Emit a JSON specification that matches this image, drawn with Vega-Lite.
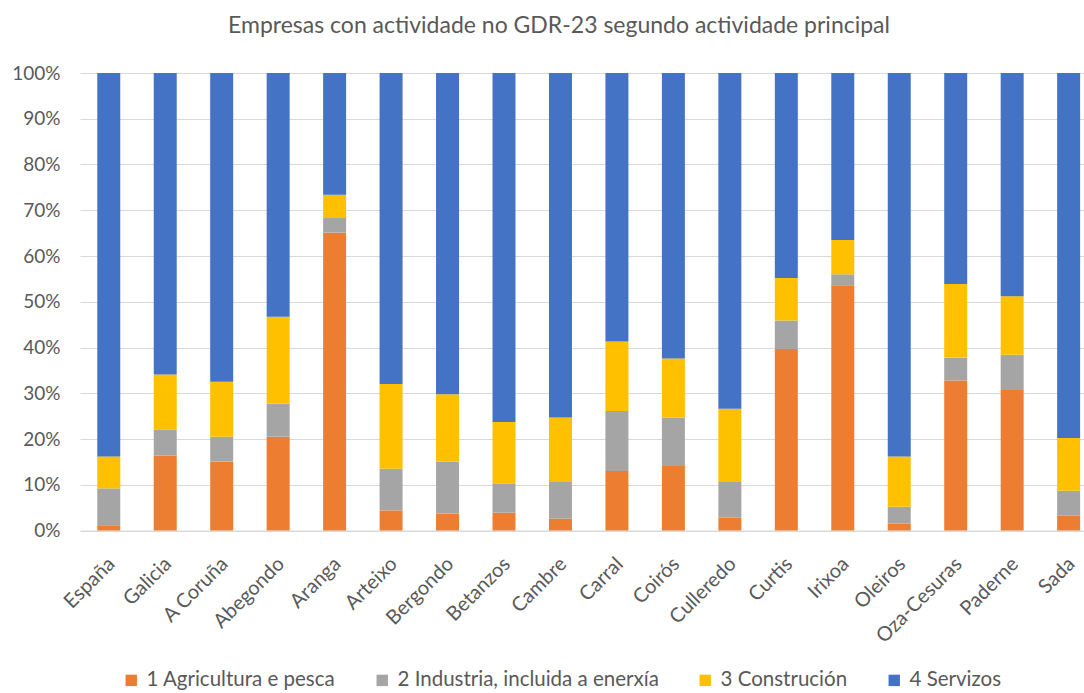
{
  "$schema": "https://vega.github.io/schema/vega-lite/v6.json",
  "width": 1004,
  "height": 457.5,
  "autosize": {"type": "none"},
  "padding": {"left": 80, "top": 73, "right": 0, "bottom": 162.5},
  "background": "white",
  "title": {
    "text": "Empresas con actividade no GDR-23 segundo actividade principal",
    "font": "Lato",
    "fontSize": 23,
    "fontWeight": "normal",
    "color": "#595959",
    "anchor": "middle",
    "dx": -23,
    "offset": 26
  },
  "config": {
    "view": {"stroke": null},
    "font": "Lato"
  },
  "data": {
    "values": [
      {"municipio": "España", "serie": "1 Agricultura e pesca", "valor": 1.0},
      {"municipio": "España", "serie": "2 Industria, incluida a enerxía", "valor": 8.2},
      {"municipio": "España", "serie": "3 Construción", "valor": 7.0},
      {"municipio": "España", "serie": "4 Servizos", "valor": 83.8},
      {"municipio": "Galicia", "serie": "1 Agricultura e pesca", "valor": 16.4},
      {"municipio": "Galicia", "serie": "2 Industria, incluida a enerxía", "valor": 5.7},
      {"municipio": "Galicia", "serie": "3 Construción", "valor": 12.0},
      {"municipio": "Galicia", "serie": "4 Servizos", "valor": 65.9},
      {"municipio": "A Coruña", "serie": "1 Agricultura e pesca", "valor": 15.1},
      {"municipio": "A Coruña", "serie": "2 Industria, incluida a enerxía", "valor": 5.4},
      {"municipio": "A Coruña", "serie": "3 Construción", "valor": 12.0},
      {"municipio": "A Coruña", "serie": "4 Servizos", "valor": 67.5},
      {"municipio": "Abegondo", "serie": "1 Agricultura e pesca", "valor": 20.5},
      {"municipio": "Abegondo", "serie": "2 Industria, incluida a enerxía", "valor": 7.2},
      {"municipio": "Abegondo", "serie": "3 Construción", "valor": 19.0},
      {"municipio": "Abegondo", "serie": "4 Servizos", "valor": 53.3},
      {"municipio": "Aranga", "serie": "1 Agricultura e pesca", "valor": 65.1},
      {"municipio": "Aranga", "serie": "2 Industria, incluida a enerxía", "valor": 3.2},
      {"municipio": "Aranga", "serie": "3 Construción", "valor": 5.1},
      {"municipio": "Aranga", "serie": "4 Servizos", "valor": 26.6},
      {"municipio": "Arteixo", "serie": "1 Agricultura e pesca", "valor": 4.4},
      {"municipio": "Arteixo", "serie": "2 Industria, incluida a enerxía", "valor": 9.1},
      {"municipio": "Arteixo", "serie": "3 Construción", "valor": 18.5},
      {"municipio": "Arteixo", "serie": "4 Servizos", "valor": 68.0},
      {"municipio": "Bergondo", "serie": "1 Agricultura e pesca", "valor": 3.7},
      {"municipio": "Bergondo", "serie": "2 Industria, incluida a enerxía", "valor": 11.4},
      {"municipio": "Bergondo", "serie": "3 Construción", "valor": 14.7},
      {"municipio": "Bergondo", "serie": "4 Servizos", "valor": 70.2},
      {"municipio": "Betanzos", "serie": "1 Agricultura e pesca", "valor": 3.9},
      {"municipio": "Betanzos", "serie": "2 Industria, incluida a enerxía", "valor": 6.4},
      {"municipio": "Betanzos", "serie": "3 Construción", "valor": 13.4},
      {"municipio": "Betanzos", "serie": "4 Servizos", "valor": 76.3},
      {"municipio": "Cambre", "serie": "1 Agricultura e pesca", "valor": 2.6},
      {"municipio": "Cambre", "serie": "2 Industria, incluida a enerxía", "valor": 8.0},
      {"municipio": "Cambre", "serie": "3 Construción", "valor": 14.1},
      {"municipio": "Cambre", "serie": "4 Servizos", "valor": 75.3},
      {"municipio": "Carral", "serie": "1 Agricultura e pesca", "valor": 13.0},
      {"municipio": "Carral", "serie": "2 Industria, incluida a enerxía", "valor": 13.1},
      {"municipio": "Carral", "serie": "3 Construción", "valor": 15.2},
      {"municipio": "Carral", "serie": "4 Servizos", "valor": 58.7},
      {"municipio": "Coirós", "serie": "1 Agricultura e pesca", "valor": 14.1},
      {"municipio": "Coirós", "serie": "2 Industria, incluida a enerxía", "valor": 10.6},
      {"municipio": "Coirós", "serie": "3 Construción", "valor": 12.9},
      {"municipio": "Coirós", "serie": "4 Servizos", "valor": 62.4},
      {"municipio": "Culleredo", "serie": "1 Agricultura e pesca", "valor": 2.8},
      {"municipio": "Culleredo", "serie": "2 Industria, incluida a enerxía", "valor": 7.8},
      {"municipio": "Culleredo", "serie": "3 Construción", "valor": 16.0},
      {"municipio": "Culleredo", "serie": "4 Servizos", "valor": 73.4},
      {"municipio": "Curtis", "serie": "1 Agricultura e pesca", "valor": 39.7},
      {"municipio": "Curtis", "serie": "2 Industria, incluida a enerxía", "valor": 6.2},
      {"municipio": "Curtis", "serie": "3 Construción", "valor": 9.3},
      {"municipio": "Curtis", "serie": "4 Servizos", "valor": 44.8},
      {"municipio": "Irixoa", "serie": "1 Agricultura e pesca", "valor": 53.6},
      {"municipio": "Irixoa", "serie": "2 Industria, incluida a enerxía", "valor": 2.4},
      {"municipio": "Irixoa", "serie": "3 Construción", "valor": 7.5},
      {"municipio": "Irixoa", "serie": "4 Servizos", "valor": 36.5},
      {"municipio": "Oleiros", "serie": "1 Agricultura e pesca", "valor": 1.5},
      {"municipio": "Oleiros", "serie": "2 Industria, incluida a enerxía", "valor": 3.7},
      {"municipio": "Oleiros", "serie": "3 Construción", "valor": 11.0},
      {"municipio": "Oleiros", "serie": "4 Servizos", "valor": 83.8},
      {"municipio": "Oza-Cesuras", "serie": "1 Agricultura e pesca", "valor": 32.8},
      {"municipio": "Oza-Cesuras", "serie": "2 Industria, incluida a enerxía", "valor": 5.0},
      {"municipio": "Oza-Cesuras", "serie": "3 Construción", "valor": 16.1},
      {"municipio": "Oza-Cesuras", "serie": "4 Servizos", "valor": 46.1},
      {"municipio": "Paderne", "serie": "1 Agricultura e pesca", "valor": 30.7},
      {"municipio": "Paderne", "serie": "2 Industria, incluida a enerxía", "valor": 7.7},
      {"municipio": "Paderne", "serie": "3 Construción", "valor": 12.8},
      {"municipio": "Paderne", "serie": "4 Servizos", "valor": 48.8},
      {"municipio": "Sada", "serie": "1 Agricultura e pesca", "valor": 3.3},
      {"municipio": "Sada", "serie": "2 Industria, incluida a enerxía", "valor": 5.4},
      {"municipio": "Sada", "serie": "3 Construción", "valor": 11.5},
      {"municipio": "Sada", "serie": "4 Servizos", "valor": 79.8}
    ]
  },
  "mark": {"type": "bar"},
  "encoding": {
    "x": {
      "field": "municipio",
      "type": "nominal",
      "sort": null,
      "scale": {"range": [0, 1017.4], "paddingInner": 0.593, "paddingOuter": 0.306},
      "axis": {
        "title": null,
        "labelAngle": -45,
        "labelFont": "Lato",
        "labelFontSize": 20,
        "labelColor": "#595959",
        "labelPadding": 23,
        "labelOffset": -4,
        "labelLimit": 300,
        "ticks": false,
        "domainColor": "#D9D9D9",
        "domainWidth": 1
      }
    },
    "y": {
      "field": "valor",
      "type": "quantitative",
      "stack": "normalize",
      "scale": {"domain": [0, 1]},
      "axis": {
        "title": null,
        "format": ".0%",
        "values": [0, 0.1, 0.2, 0.3, 0.4, 0.5, 0.6, 0.7, 0.8, 0.9, 1],
        "labelFont": "Lato",
        "labelFontSize": 19,
        "labelColor": "#595959",
        "labelPadding": 20,
        "ticks": false,
        "domain": false,
        "gridColor": "#D9D9D9",
        "gridWidth": 1
      }
    },
    "color": {
      "field": "serie",
      "type": "nominal",
      "scale": {
        "domain": ["1 Agricultura e pesca", "2 Industria, incluida a enerxía", "3 Construción", "4 Servizos"],
        "range": ["#ED7D31", "#A5A5A5", "#FFC000", "#4472C4"]
      },
      "legend": {
        "title": null,
        "orient": "none",
        "direction": "horizontal",
        "legendX": 41,
        "legendY": 597,
        "symbolType": "square",
        "symbolSize": 130,
        "symbolStrokeWidth": 0,
        "labelFont": "Lato",
        "labelFontSize": 20.5,
        "labelLimit": 400,
        "labelColor": "#595959",
        "labelOffset": 5,
        "columnPadding": 36
      }
    },
    "order": {"field": "serie", "sort": "ascending"}
  }
}
